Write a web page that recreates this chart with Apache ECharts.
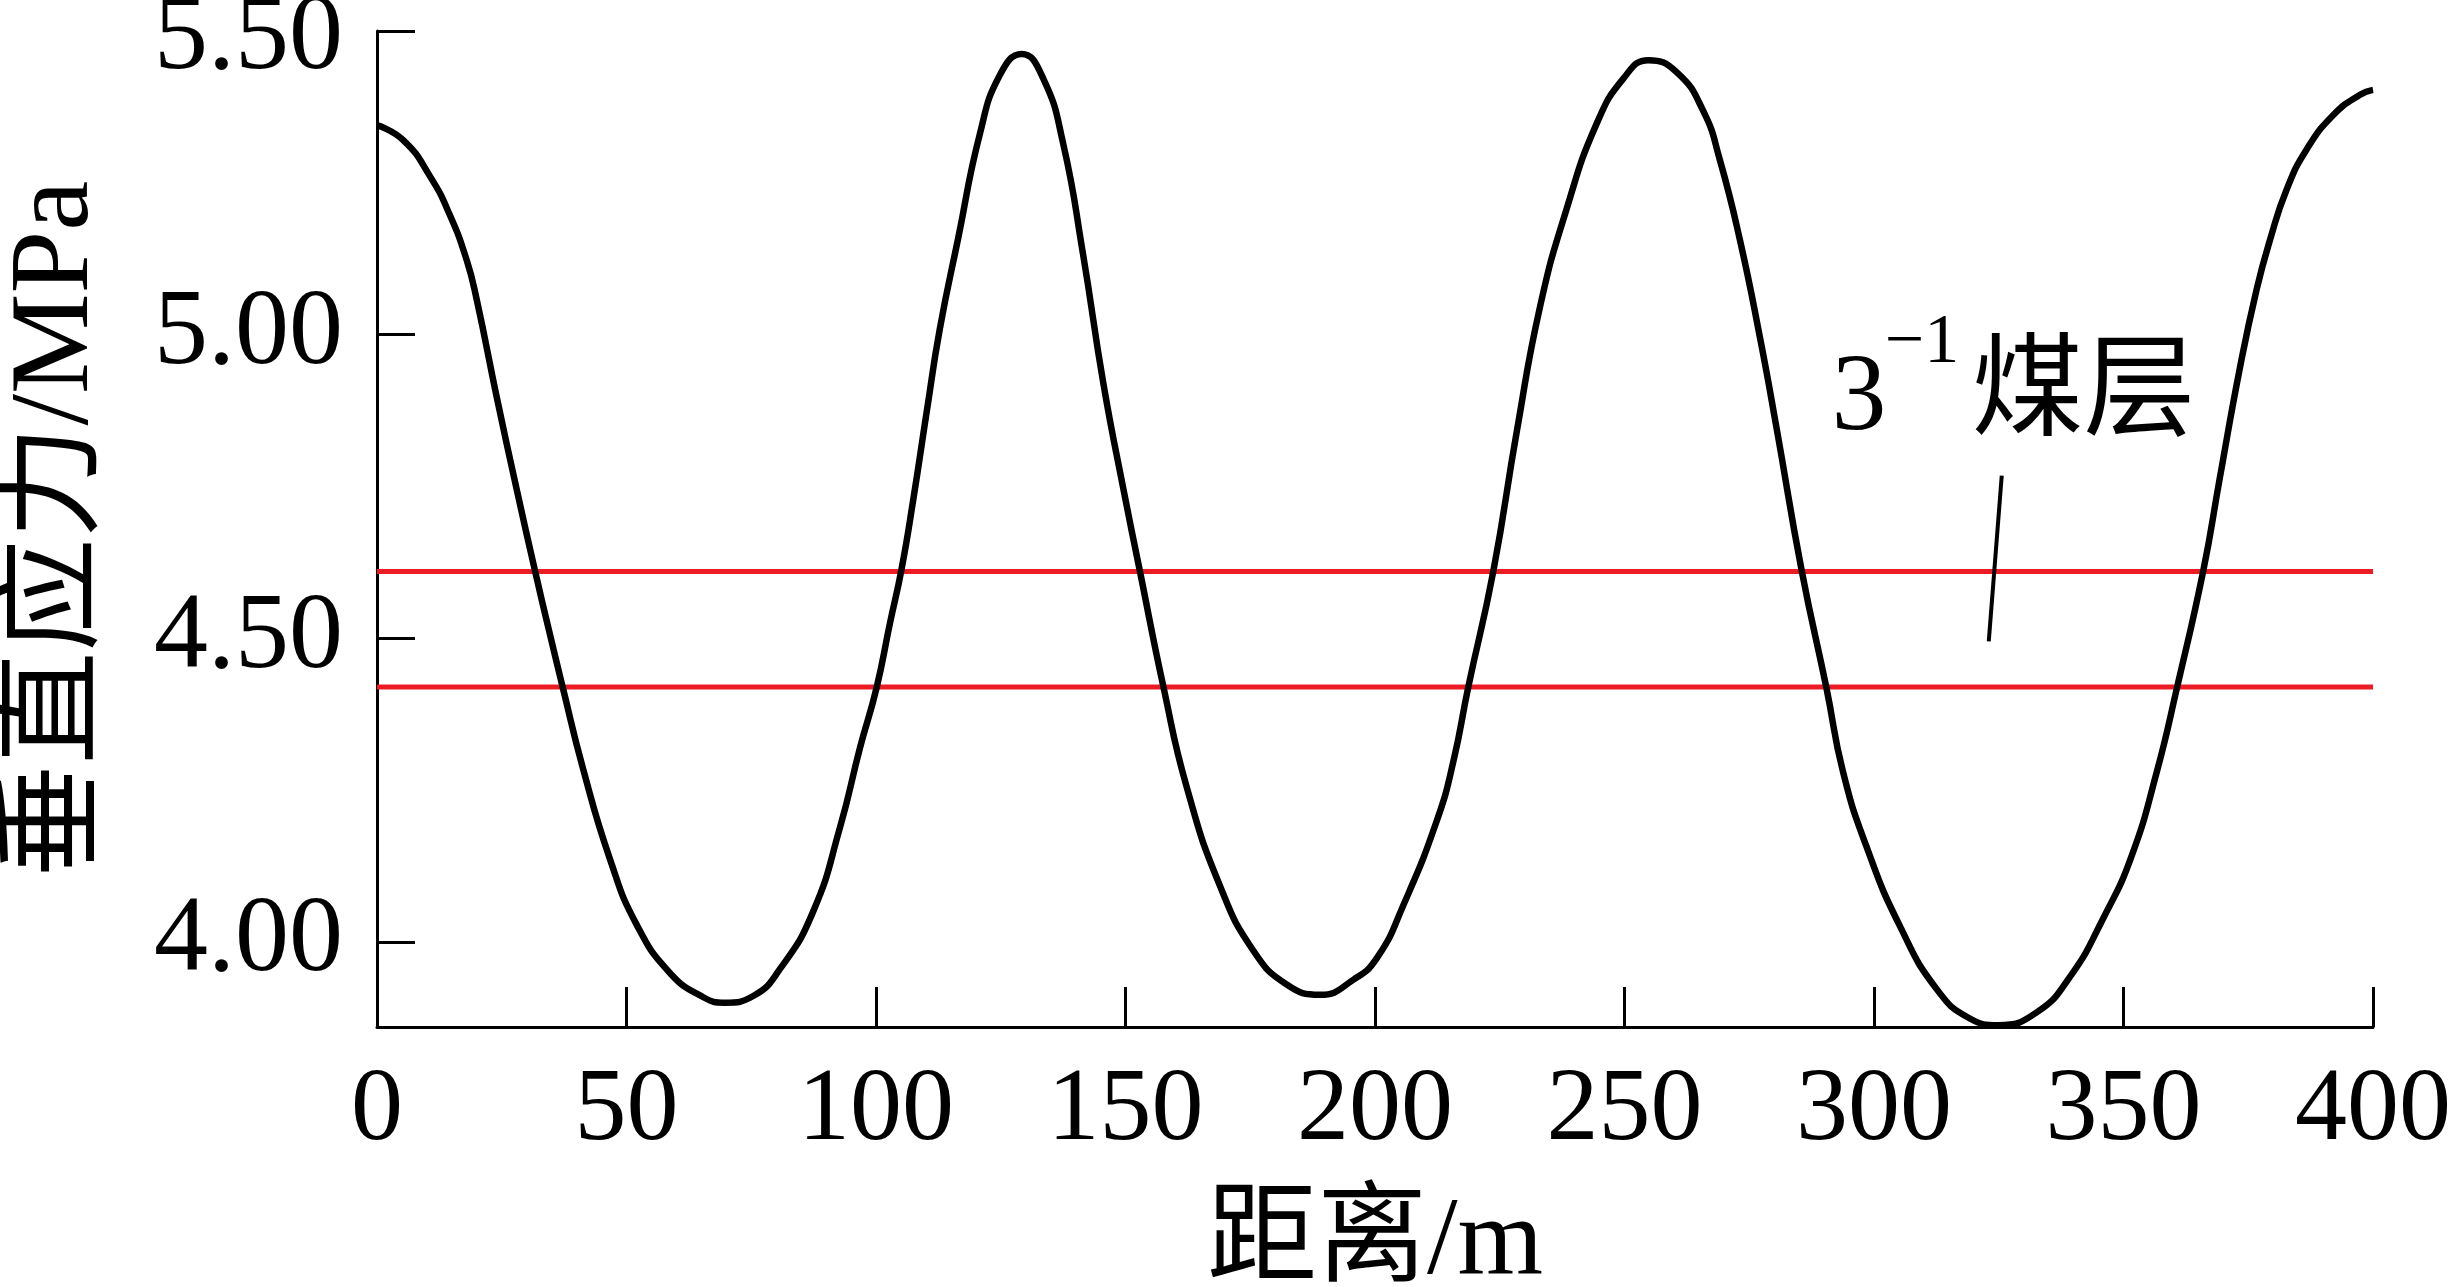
<!DOCTYPE html>
<html>
<head>
<meta charset="utf-8">
<script src="https://cdn.jsdelivr.net/npm/echarts@6/dist/echarts.min.js"></script>
<style>
html,body{margin:0;padding:0;background:#fff;}
#chart{width:2450px;height:1287px;}
</style>
</head>
<body>
<div id="chart"></div>
<script>
// distance (m) and vertical stress (MPa)
const DISTANCE = [0,5.3,10.6,14.6,18.0,20.0,24.0,28.0,31.7,34.7,37.2,41.3,46.7,52.0,58.7,65.4,69.7,75.4,80.8,87.4,92.8,96.8,100.1,102.8,105.1,107.5,110.2,112.8,116.5,120.8,124.8,129.2,133.5,137.5,141.5,145.6,149.6,152.9,157.6,162.3,168.9,175.6,182.3,189.0,195.7,200.5,205.7,212.4,215.7,218.7,223.7,228.4,233.1,238.4,244.4,249.8,254.8,260.5,265.8,269.1,273.1,277.2,280.5,285.5,290.5,293.8,298.5,305.2,312.6,319.2,324.9,332.6,339.3,346.0,351.6,356.7,360.7,366.0,369.3,373.3,376.7,379.4,382.7,386.7,392.1,397.4,400];
const STRESS = [5.345,5.32,5.261,5.197,5.122,5.057,4.897,4.745,4.61,4.505,4.42,4.285,4.136,4.029,3.949,3.909,3.900,3.911,3.956,4.05,4.189,4.32,4.418,4.525,4.613,4.73,4.875,5.01,5.16,5.33,5.427,5.462,5.422,5.315,5.132,4.918,4.745,4.61,4.42,4.254,4.093,3.986,3.930,3.913,3.938,3.975,4.061,4.20,4.297,4.42,4.61,4.84,5.047,5.207,5.347,5.422,5.452,5.432,5.368,5.288,5.157,4.993,4.845,4.612,4.417,4.28,4.157,4.026,3.922,3.874,3.863,3.884,3.943,4.04,4.141,4.281,4.418,4.612,4.764,4.944,5.075,5.157,5.239,5.305,5.362,5.395,5.403];
// coal seam boundaries (MPa)
const SEAM_TOP = 4.61;
const SEAM_BOTTOM = 4.42;
const X_RANGE = [0, 400];
const Y_RANGE = [3.86, 5.5];
const Y_TICKS = [4.0, 4.5, 5.0, 5.5];
// annotation "3^-1 煤层" and its leader line (data coordinates)
const ANNOT_BASE = '3';
const ANNOT_SUP = '\u22121';
const ANNOT_CJK = '煤层';
const ANNOT_BASE_AT = [297.0, 4.892];
const ANNOT_SUP_AT = [309.6, 4.985];
const ANNOT_CJK_AT = [342.0, 4.897];
const LEADER = [[325.6, 4.768], [323.0, 4.495]];

const FONT = "'Liberation Serif', 'Noto Sans CJK SC', serif";
const RED = '#ed1c24';

const chart = echarts.init(document.getElementById('chart'), null, {renderer: 'canvas'});
const curve = DISTANCE.map((d, i) => [d, STRESS[i]]);

const option = {
  backgroundColor: '#fff',
  animation: false,
  grid: {left: 377, right: 77, top: 31, bottom: 260, containLabel: false, outerBoundsMode: 'none'},
  xAxis: {
    type: 'value', min: X_RANGE[0], max: X_RANGE[1], interval: 50,
    name: '距离/m', nameLocation: 'middle', nameGap: 162,
    nameTextStyle: {fontFamily: FONT, fontSize: 110, color: '#000'},
    axisLine: {lineStyle: {color: '#000', width: 3}},
    axisTick: {inside: true, length: 40, lineStyle: {color: '#000', width: 3}},
    axisLabel: {fontFamily: FONT, fontSize: 104, color: '#000', margin: 33},
    splitLine: {show: false}
  },
  yAxis: {
    type: 'value', min: Y_RANGE[0], max: Y_RANGE[1],
    name: '垂直应力/MPa', nameLocation: 'middle', nameGap: 263, nameRotate: 90,
    nameTextStyle: {fontFamily: FONT, fontSize: 113, color: '#000'},
    axisLine: {show: true, lineStyle: {color: '#000', width: 3}},
    axisTick: {show: true, inside: true, length: 38, customValues: Y_TICKS, lineStyle: {color: '#000', width: 3}},
    axisLabel: {fontFamily: FONT, fontSize: 108, color: '#000', margin: 34, customValues: Y_TICKS,
      formatter: v => (Math.abs(v - Y_RANGE[1]) < 1e-9 ? '{top|' + Number(v).toFixed(2) + '}' : Number(v).toFixed(2)),
      rich: {top: {fontFamily: FONT, fontSize: 108, color: '#000', padding: [18, 0, 0, 0]}}},
    splitLine: {show: false}
  },
  series: [
    {type: 'line', data: [[X_RANGE[0], SEAM_TOP], [X_RANGE[1], SEAM_TOP]], symbol: 'none',
      lineStyle: {color: RED, width: 5}, z: 1, silent: true},
    {type: 'line', data: [[X_RANGE[0], SEAM_BOTTOM], [X_RANGE[1], SEAM_BOTTOM]], symbol: 'none',
      lineStyle: {color: RED, width: 5}, z: 1, silent: true},
    {type: 'line', data: LEADER, symbol: 'none', lineStyle: {color: '#000', width: 4}, z: 2, silent: true},
    {type: 'line', data: curve, symbol: 'none', smooth: 0.5,
      lineStyle: {color: '#000', width: 6.5}, z: 3, silent: true}
  ]
};
chart.setOption(option);

function px(p) { return chart.convertToPixel({gridIndex: 0}, p); }
const pb = px(ANNOT_BASE_AT), ps = px(ANNOT_SUP_AT), pc = px(ANNOT_CJK_AT);
chart.setOption({
  graphic: [
    {type: 'text', x: pb[0], y: pb[1], style: {text: ANNOT_BASE, font: "110px " + FONT, fill: '#000', align: 'center', verticalAlign: 'middle'}},
    {type: 'text', x: ps[0], y: ps[1], style: {text: ANNOT_SUP, font: "70px " + FONT, fill: '#000', align: 'center', verticalAlign: 'middle'}},
    {type: 'text', x: pc[0], y: pc[1], style: {text: ANNOT_CJK, font: "112px " + FONT, fill: '#000', align: 'center', verticalAlign: 'middle'}}
  ]
});
</script>
</body>
</html>
